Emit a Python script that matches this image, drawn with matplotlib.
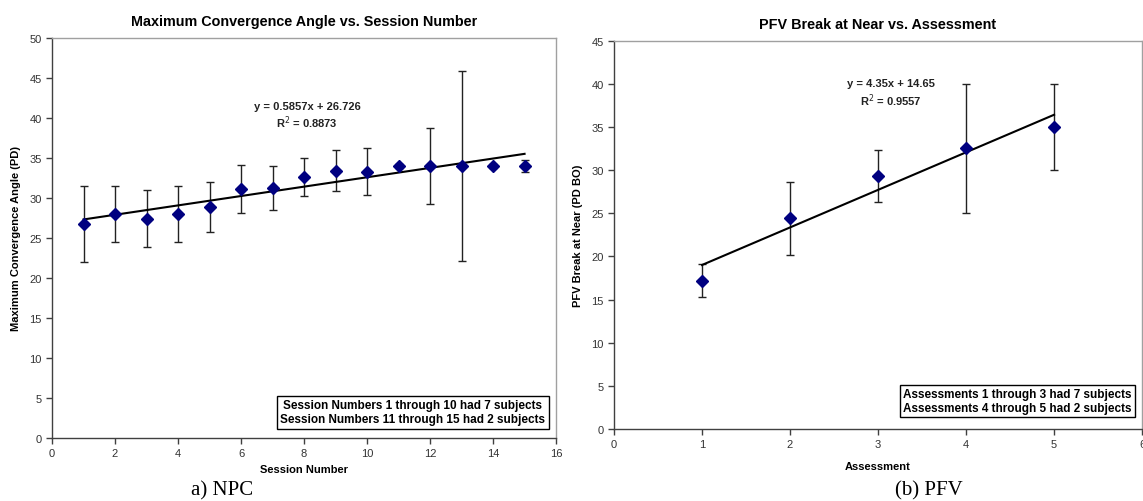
import numpy as np
import matplotlib
matplotlib.use("Agg")
from matplotlib import pyplot as plt

# ---- data ----
sessions = [1, 2, 3, 4, 5, 6, 7, 8, 9, 10, 11, 12, 13, 14, 15]
npc_mean = [26.8, 28.0, 27.4, 28.0, 28.9, 31.1, 31.3, 32.6, 33.4, 33.3, 34.0, 34.0, 34.0, 34.0, 34.0]
npc_err = [4.75, 3.45, 3.55, 3.45, 3.1, 3.0, 2.75, 2.35, 2.55, 2.9, 0.3, 4.8, 11.9, 0.3, 0.7]
npc_fit = (0.5857, 26.726)

assessments = [1, 2, 3, 4, 5]
pfv_mean = [17.2, 24.4, 29.3, 32.5, 35.0]
pfv_err = [1.9, 4.25, 3.0, 7.5, 5.0]
pfv_fit = (4.35, 14.65)

plt.rcParams['font.family'] = ['Liberation Sans', 'DejaVu Sans']

fig = plt.figure(figsize=(11.43, 5.02), dpi=100)
fig.patch.set_facecolor('white')

ax1 = fig.add_axes([0.0455, 0.1255, 0.441, 0.797])
ax2 = fig.add_axes([0.5372, 0.1434, 0.462, 0.7739])


def style_axes(ax):
    for s in ['top', 'right']:
        ax.spines[s].set_color('#a0a0a0')
    for s in ['left', 'bottom']:
        ax.spines[s].set_color('#404040')
    for s in ax.spines.values():
        s.set_linewidth(1.0)
    ax.tick_params(direction='out', length=4, width=1, color='#404040',
                   labelsize=8, labelcolor='#333333')


def draw_panel(ax, x, y, err, fit, xlim, ylim, yticks, xticks):
    ax.errorbar(x, y, yerr=err, fmt='none', ecolor='#222222', elinewidth=1,
                capsize=3, capthick=1, zorder=2)
    xs = np.array([x[0], x[-1]])
    ax.plot(xs, fit[0] * xs + fit[1], color='black', lw=1.5, zorder=3)
    ax.plot(x, y, linestyle='none', marker='D', markersize=6,
            color='#000080', zorder=4)
    ax.set_xlim(*xlim)
    ax.set_ylim(*ylim)
    ax.set_xticks(xticks)
    ax.set_yticks(yticks)
    style_axes(ax)


box_style = dict(boxstyle='square,pad=0.3', fc='white', ec='black', lw=1)

draw_panel(ax1, sessions, npc_mean, npc_err, npc_fit, (0, 16), (0, 50),
           range(0, 51, 5), range(0, 17, 2))
ax1.set_title('Maximum Convergence Angle vs. Session Number', fontsize=10.4,
              fontweight='bold', pad=9)
ax1.set_xlabel('Session Number', fontsize=8, fontweight='bold', labelpad=4)
ax1.set_ylabel('Maximum Convergence Angle (PD)', fontsize=8, fontweight='bold',
               labelpad=6)
ax1.text(8.1, 41.5, 'y = 0.5857x + 26.726', ha='center', va='center',
         fontsize=8, fontweight='bold', color='#222222')
ax1.text(8.1, 39.5, 'R$^2$ = 0.8873', ha='center', va='center',
         fontsize=8, fontweight='bold', color='#222222')
ax1.text(11.45, 3.2, 'Session Numbers 1 through 10 had 7 subjects\n'
         'Session Numbers 11 through 15 had 2 subjects',
         ha='center', va='center', fontsize=8.5, fontweight='bold',
         linespacing=1.2, bbox=box_style)

draw_panel(ax2, assessments, pfv_mean, pfv_err, pfv_fit, (0, 6), (0, 45),
           range(0, 46, 5), range(0, 7))
ax2.set_title('PFV Break at Near vs. Assessment', fontsize=10.4,
              fontweight='bold', pad=9)
ax2.set_xlabel('Assessment', fontsize=8, fontweight='bold', labelpad=8)
ax2.set_ylabel('PFV Break at Near (PD BO)', fontsize=8, fontweight='bold',
               labelpad=6)
ax2.text(3.15, 40.1, 'y = 4.35x + 14.65', ha='center', va='center',
         fontsize=8, fontweight='bold', color='#222222')
ax2.text(3.15, 38.2, 'R$^2$ = 0.9557', ha='center', va='center',
         fontsize=8, fontweight='bold', color='#222222')
ax2.text(4.585, 3.25, 'Assessments 1 through 3 had 7 subjects\n'
         'Assessments 4 through 5 had 2 subjects',
         ha='center', va='center', fontsize=8.5, fontweight='bold',
         linespacing=1.2, bbox=box_style)

fig.text(0.194, 0.022, 'a) NPC', fontsize=15, family=['Liberation Serif'],
         ha='center', va='center')
fig.text(0.813, 0.022, '(b) PFV', fontsize=15, family=['Liberation Serif'],
         ha='center', va='center')

fig.savefig('out.png', dpi=100, facecolor='white')
